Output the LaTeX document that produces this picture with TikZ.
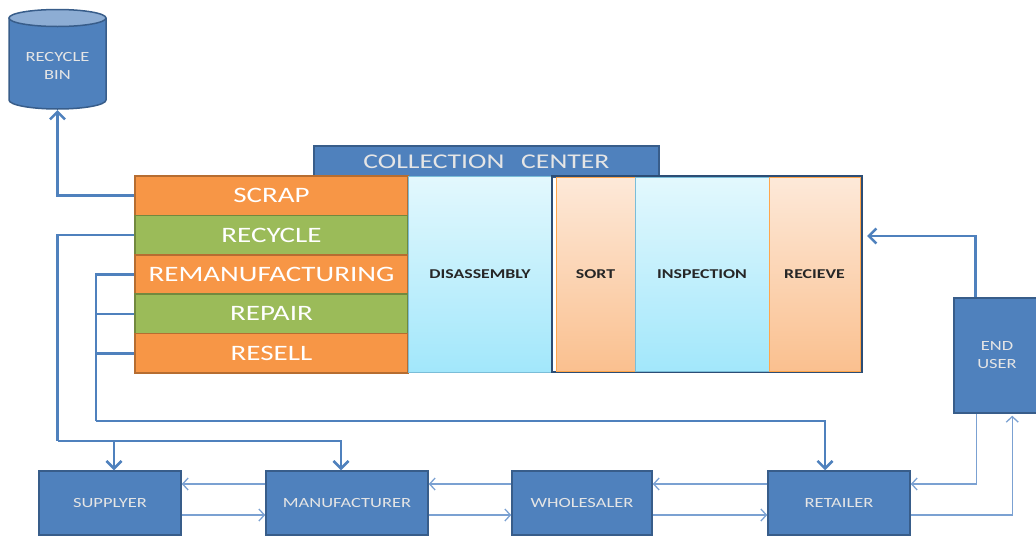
\documentclass[tikz,border=0pt]{standalone}
\usepackage{fontspec}
\setmainfont{Carlito}
\newfontfamily\widefont[FakeStretch=1.32]{Carlito}
\usetikzlibrary{arrows.meta,shapes.geometric,calc}
\definecolor{bfill}{HTML}{4F81BD}
\definecolor{bline}{HTML}{385D8A}
\definecolor{ofill}{HTML}{F79646}
\definecolor{oline}{HTML}{B66D31}
\definecolor{gfill}{HTML}{9BBB59}
\definecolor{gline}{HTML}{71893F}
\definecolor{cyantop}{HTML}{E3F8FD}
\definecolor{cyanbot}{HTML}{A2E7FB}
\definecolor{peachtop}{HTML}{FDE9D9}
\definecolor{peachbot}{HTML}{FAC08F}
\definecolor{thinl}{HTML}{7BA1D2}
\definecolor{navy}{HTML}{2C4D75}
\tikzset{
  bluebox/.style={draw=bline, fill=bfill, line width=1.5pt, text=white!90!black, font=\widefont\fontsize{14}{17}\selectfont, align=center, inner sep=0pt},
  stackrow/.style={line width=1.5pt, minimum width=273pt, minimum height=39.4pt, text=white, font=\widefont\fontsize{22}{24}\selectfont, inner sep=0pt},
  orangerow/.style={stackrow, draw=oline, fill=ofill},
  greenrow/.style={stackrow, draw=gline, fill=gfill},
  cyancol/.style={draw=cyan!50!teal!60, line width=1pt, top color=cyantop, bottom color=cyanbot, font=\widefont\bfseries\fontsize{13.5}{15}\selectfont, text=black!85, inner sep=0pt},
  peachcol/.style={draw=orange!70, line width=1pt, top color=peachtop, bottom color=peachbot, font=\widefont\bfseries\fontsize{13.5}{15}\selectfont, text=black!85, inner sep=0pt},
  thick arrow/.style={draw=bfill, line width=2.6pt, -{Straight Barb[length=7.5pt,width=15pt,line width=2.6pt]}},
  thick line/.style={draw=bfill, line width=2.6pt},
  thin arrow/.style={draw=thinl, line width=1.5pt, -{Straight Barb[length=5.5pt,width=12pt,line width=1.3pt]}},
}
\begin{document}
\begin{tikzpicture}[x=1pt,y=-1pt]
\useasboundingbox (0,0) rectangle (1036,536);
% recycle bin (cylinder drawn directly)
\draw[draw=bline, fill=bfill, line width=1.5pt, line join=round]
  (9,18) -- (9,100) arc[start angle=180, end angle=0, x radius=48.5, y radius=9] -- (106,18) -- cycle;
\draw[draw=bline, fill=bfill!65!white, line width=1.5pt] (57.5,18) ellipse[x radius=48.5, y radius=8.5];
\node[align=center, text=white!90!black, font=\widefont\fontsize{14}{18}\selectfont, inner sep=0pt] (bin) at (57.5,66) {RECYCLE\\BIN};
\coordinate (binbot) at (57.5,110);
% header
\node[bluebox, minimum width=345pt, minimum height=31pt, font=\widefont\fontsize{21}{22}\selectfont] (hdr) at (486.5,161.5) {COLLECTION\enspace\ CENTER};
% stack
\node[orangerow] (scrap) at (271.5,195.7) {SCRAP};
\node[greenrow] (recycle) at (271.5,235.1) {RECYCLE};
\node[orangerow] (reman) at (271.5,274.5) {REMANUFACTURING};
\node[greenrow] (repair) at (271.5,313.9) {REPAIR};
\node[orangerow] (resell) at (271.5,353.3) {RESELL};
% columns
\node[cyancol, minimum width=144pt, minimum height=196pt] (dis) at (480,274) {DISASSEMBLY};
\node[draw=navy, line width=2pt, minimum width=310pt, minimum height=196pt, inner sep=0pt] (ccbox) at (707,274) {};
\node[peachcol, minimum width=79pt, minimum height=194pt] (sort) at (595.5,274) {SORT};
\node[cyancol, minimum width=134pt, minimum height=194pt] (insp) at (702,274) {INSPECTION};
\node[peachcol, minimum width=91pt, minimum height=194pt] (rec) at (814.5,274) {RECIEVE};
% end user
\node[bluebox, minimum width=86pt, minimum height=115pt] (eu) at (997,355.5) {END\\[1pt]USER};
% bottom boxes
\node[bluebox, minimum width=142pt, minimum height=64pt] (sup) at (110,503) {SUPPLYER};
\node[bluebox, minimum width=162pt, minimum height=64pt] (manu) at (347,503) {MANUFACTURER};
\node[bluebox, minimum width=140pt, minimum height=64pt] (whole) at (582,503) {WHOLESALER};
\node[bluebox, minimum width=142pt, minimum height=64pt] (ret) at (839,503) {RETAILER};
% junction coordinates
\coordinate (j1) at (57.5,441);
\coordinate (j2) at (96,421);
\coordinate (supin) at ($(sup.north)+(4,0)$);
\coordinate (manuin) at ($(manu.north)+(-6,0)$);
\coordinate (retin) at ($(ret.north)+(-14,0)$);
\coordinate (ccin) at ($(ccbox.east)+(4,-38)$);
\coordinate (eutop) at ($(eu.north west)+(22,0)$);
\coordinate (euin) at ($(eu.south west)+(23,0)$);
\coordinate (euout) at ($(eu.south west)+(59,2)$);
% thick connectors
\draw[thick arrow] (scrap.west) -| (binbot);
\draw[thick line] (recycle.west) -| (j1);
\draw[thick arrow] (j1) -| (manuin);
\draw[thick arrow] (j1 -| supin) -- (supin);
\draw[thick line] (reman.west) -| (j2);
\draw[thick line] (repair.west) -- (repair.west -| j2);
\draw[thick line] (resell.west) -- (resell.west -| j2);
\draw[thick arrow] (j2) -| (retin);
\draw[thick arrow] (eutop) |- (ccin);
% thin connectors
\draw[thin arrow] (manu.west |- 0,484) -- (sup.east |- 0,484);
\draw[thin arrow] (whole.west |- 0,484) -- (manu.east |- 0,484);
\draw[thin arrow] (ret.west |- 0,484) -- (whole.east |- 0,484);
\draw[thin arrow] (euin) |- (ret.east |- 0,484);
\draw[thin arrow] (sup.east |- 0,515) -- (manu.west |- 0,515);
\draw[thin arrow] (manu.east |- 0,515) -- (whole.west |- 0,515);
\draw[thin arrow] (whole.east |- 0,515) -- (ret.west |- 0,515);
\draw[thin arrow] (ret.east |- 0,515) -| (euout);
\end{tikzpicture}
\end{document}
